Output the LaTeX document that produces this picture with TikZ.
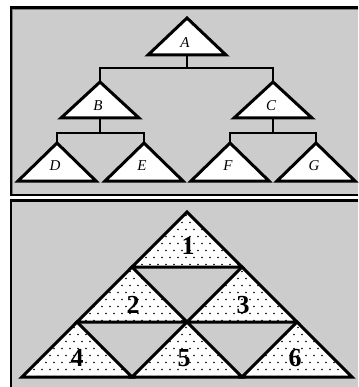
\documentclass[tikz,border=0pt]{standalone}
\usepackage{fontspec}
\setmainfont{Liberation Serif}
\usetikzlibrary{patterns}
\pgfdeclarepatternformonly{stagdots}{\pgfpoint{-1pt}{-1pt}}{\pgfpoint{9pt}{15pt}}{\pgfpoint{8pt}{14pt}}{%
  \pgfpathcircle{\pgfpoint{2pt}{3.5pt}}{0.9pt}%
  \pgfpathcircle{\pgfpoint{6pt}{10.5pt}}{0.9pt}%
  \pgfusepath{fill}}
\definecolor{panelgrey}{RGB}{204,204,204}
\begin{document}
\begin{tikzpicture}[x=1pt,y=-1pt,
  tri/.style={draw=black, fill=white, line width=3pt, line join=miter},
  link/.style={draw=black, line width=2.2pt},
  lab/.style={font=\fontsize{15}{15}\selectfont\itshape, inner sep=0pt},
  num/.style={font=\fontsize{26}{26}\selectfont\bfseries, inner sep=0pt},
  dottri/.style={draw=black, line width=3pt, line join=miter, fill=white,
    postaction={pattern=stagdots, pattern color=black}}]
\useasboundingbox (0,0) rectangle (358,387);
\fill[white] (0,0) rectangle (358,387);
% panel 1
\fill[panelgrey] (11,7) rectangle (358,195);
\draw[line width=1pt, black!50] (12.5,194) -- (12.5,9.5) -- (358,9.5);
\draw[line width=3pt] (11,7.5) -- (358,7.5);
\draw[line width=1.5pt] (11,6) -- (11,196);
\draw[line width=2pt] (11,195) -- (358,195);
% panel 2
\fill[panelgrey] (11,200) rectangle (358,387);
\draw[line width=3pt] (11,200) -- (358,200);
\draw[line width=1.5pt] (11,198.5) -- (11,387);
% tree coordinates
\foreach \n/\x/\t/\b in {A/187/18/55, B/100/82/118, C/273/82/118, D/57/143/181, E/144/143/181, F/230/143/181, G/316/143/181} {
  \coordinate (\n-apex) at (\x,\t);
  \coordinate (\n-base) at (\x,\b);
}
% connectors
\draw[link] (A-base) -- ++(0,13) -| (B-apex);
\draw[link] (A-base) -- ++(0,13) -| (C-apex);
\draw[link] (B-base) -- ++(0,15) -| (D-apex);
\draw[link] (B-base) -- ++(0,15) -| (E-apex);
\draw[link] (C-base) -- ++(0,15) -| (F-apex);
\draw[link] (C-base) -- ++(0,15) -| (G-apex);
% triangles and labels
\foreach \n/\x/\t/\b/\ly in {A/187/18/55/43, B/100/82/118/106, C/273/82/118/106, D/57/143/181/166, E/144/143/181/166, F/230/143/181/166, G/316/143/181/166} {
  \draw[tri] (\x,\t) -- (\x+39,\b) -- (\x-39,\b) -- cycle;
  \node[lab] (\n) at (\x-2,\ly) {\n};
}
% bottom triangle
\coordinate (p0) at (187,212);
\coordinate (p1) at (132,267); \coordinate (p2) at (242,267);
\coordinate (p3) at (77,322); \coordinate (p4) at (187,322); \coordinate (p5) at (297,322);
\coordinate (p6) at (22,377); \coordinate (p7) at (132,377); \coordinate (p8) at (242,377); \coordinate (p9) at (352,377);
\draw[dottri] (p0) -- (p2) -- (p1) -- cycle;
\draw[dottri] (p1) -- (p4) -- (p3) -- cycle;
\draw[dottri] (p2) -- (p5) -- (p4) -- cycle;
\draw[dottri] (p3) -- (p7) -- (p6) -- cycle;
\draw[dottri] (p4) -- (p8) -- (p7) -- cycle;
\draw[dottri] (p5) -- (p9) -- (p8) -- cycle;
\node[num] (n1) at (188,246) {1};
\node[num] (n2) at (133,305) {2};
\node[num] (n3) at (243,305) {3};
\node[num] (n4) at (77,358) {4};
\node[num] (n5) at (184,358) {5};
\node[num] (n6) at (295,358) {6};
\end{tikzpicture}
\end{document}
